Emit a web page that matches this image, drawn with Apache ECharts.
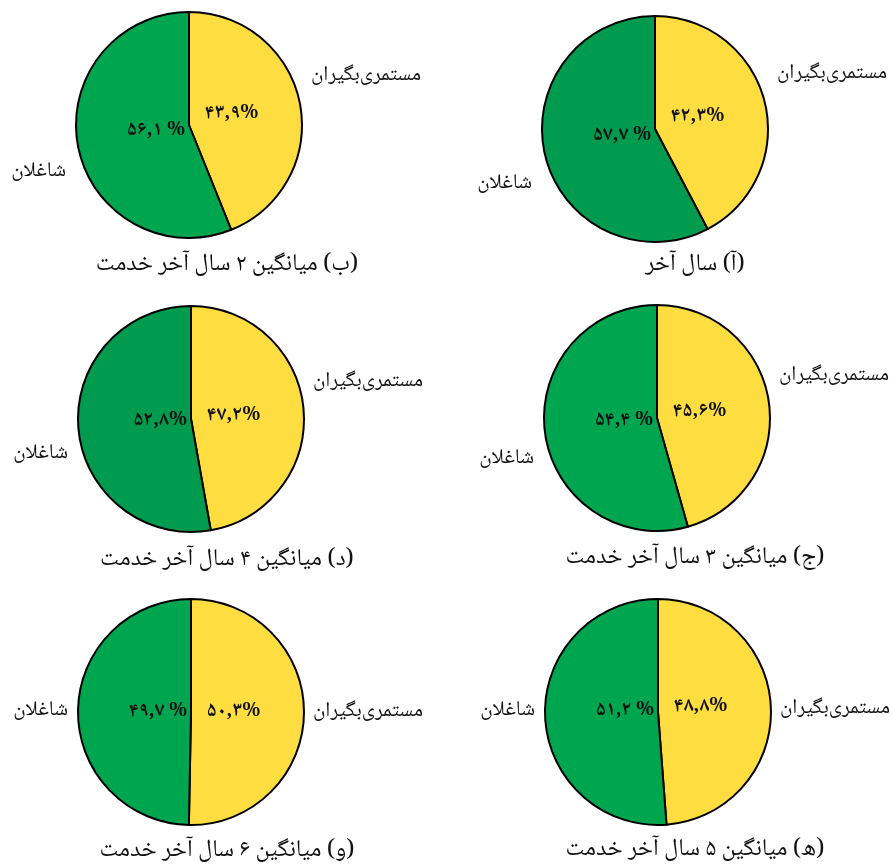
<!DOCTYPE html>
<html><head><meta charset="utf-8">
<script src="https://cdn.jsdelivr.net/npm/echarts@6/dist/echarts.min.js"></script>
<style>html,body{margin:0;padding:0;background:#fff}#c{width:892px;height:868px}</style>
</head><body><div id="c"></div>
<script>
// ---- data ----
const categories = ['مستمری‌بگیران', 'شاغلان'];
const captions = [
  '(آ) سال آخر',
  '(ب) میانگین ۲ سال آخر خدمت',
  '(ج) میانگین ۳ سال آخر خدمت',
  '(د) میانگین ۴ سال آخر خدمت',
  '(ه) میانگین ۵ سال آخر خدمت',
  '(و) میانگین ۶ سال آخر خدمت'
];
const pensioners = [42.3, 43.9, 45.6, 47.2, 48.8, 50.3];
const employed   = [57.7, 56.1, 54.4, 52.8, 51.2, 49.7];
const employedSep = [' ', ' ', ' ', '', ' ', ' '];

// ---- layout / style ----
const centers = [[655,129],[189,125],[657,418],[191,419],[658,712],[191,712]];
const R = 113;
const captionPos = [[695,267],[227,267],[695,560],[227,562],[695,852],[227,853]];
const pctDy  = [[-11,8],[-10,7],[-5,4],[-2,3],[-4,0],[1,1]];
const nameDy = [[-54,56],[-48,48],[-41,42],[-36,36],[-2,0],[1,0]];
const YELLOW = '#FEDD40';
const greens = ['#009B4F','#00A54F','#00A54F','#009B4F','#00A54F','#00A54F'];
const FONT = "'Noto Naskh Arabic', 'DejaVu Sans', sans-serif";

const toFa = v => String(v).replace(/\d/g, d => '۰۱۲۳۴۵۶۷۸۹'[d]).replace('.', ',');
const rtl = s => '\u202B' + s + '\u202C';

const series = [];
const titles = [];
for (let i = 0; i < 6; i++) {
  const c = centers[i];
  const data = [
    {name: categories[0], value: pensioners[i], itemStyle: {color: YELLOW}},
    {name: categories[1], value: employed[i], itemStyle: {color: greens[i]}}
  ];
  series.push({
    type: 'pie', center: c, radius: R, startAngle: 90, clockwise: true,
    silent: true, animation: false, emphasis: {disabled: true},
    itemStyle: {borderColor: '#000', borderWidth: 2},
    data: data,
    label: {
      show: true, position: 'inside', fontSize: 20, fontWeight: 'bold', color: '#111', fontFamily: FONT,
      formatter: p => p.dataIndex === 0 ? toFa(p.value) + '%' : toFa(p.value) + employedSep[i] + '%'
    },
    labelLine: {show: false},
    labelLayout: p => ({
      x: c[0] + (p.dataIndex === 0 ? 16 : -4),
      y: c[1] + pctDy[i][p.dataIndex],
      align: p.dataIndex === 0 ? 'left' : 'right',
      verticalAlign: 'middle'
    })
  });
  series.push({
    type: 'pie', center: c, radius: R, startAngle: 90, clockwise: true,
    silent: true, animation: false, emphasis: {disabled: true},
    itemStyle: {color: 'rgba(0,0,0,0)', borderWidth: 0},
    data: data.map(d => ({name: d.name, value: d.value})),
    label: {show: true, position: 'inside', fontSize: 21, color: '#111', fontFamily: FONT, formatter: p => rtl(p.name)},
    labelLine: {show: false},
    labelLayout: p => ({
      x: c[0] + (p.dataIndex === 0 ? 122 : -123),
      y: c[1] + nameDy[i][p.dataIndex],
      align: p.dataIndex === 0 ? 'left' : 'right',
      verticalAlign: 'middle'
    })
  });
  titles.push({
    text: rtl(captions[i]), left: captionPos[i][0], top: captionPos[i][1], textAlign: 'center', textVerticalAlign: 'middle', padding: 0,
    textStyle: {fontSize: 24, fontWeight: 'normal', color: '#111', fontFamily: FONT}
  });
}

const chart = echarts.init(document.getElementById('c'));
chart.setOption({backgroundColor: '#fff', animation: false, title: titles, series: series});
</script></body></html>
